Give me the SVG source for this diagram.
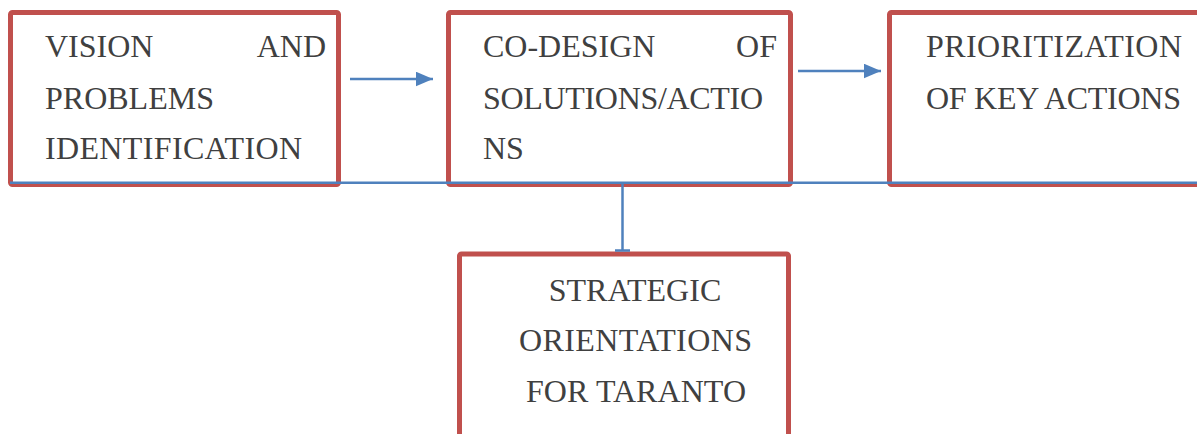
<svg xmlns="http://www.w3.org/2000/svg" width="1197" height="434" viewBox="0 0 1197 434">
  <style>
    .box { fill: #ffffff; stroke: #c0504d; stroke-width: 5; }
    .lbl { font-family: "Liberation Serif", "Times New Roman", serif; font-size: 32px; fill: #404040; }
    .mid { text-anchor: middle; }
    .end { text-anchor: end; }
    .wire { fill: none; stroke: #4f81bd; stroke-width: 2.5; }
  </style>
  <defs>
    <marker id="arrow" markerWidth="7" markerHeight="6" refX="7" refY="3" orient="auto" markerUnits="strokeWidth">
      <path d="M0,0 L7,3 L0,6 Z" fill="#4f81bd"/>
    </marker>
  </defs>

  <g id="vision">
    <rect class="box" x="10.5" y="12.5" width="328" height="172" rx="2"/>
    <text class="lbl" x="45" y="57">VISION</text>
    <text class="lbl end" x="326" y="57">AND</text>
    <text class="lbl" x="45" y="109">PROBLEMS</text>
    <text class="lbl" x="45" y="159" textLength="257">IDENTIFICATION</text>
  </g>

  <g id="codesign">
    <rect class="box" x="448.5" y="12.5" width="342" height="172" rx="2"/>
    <text class="lbl" x="483" y="57">CO-DESIGN</text>
    <text class="lbl end" x="777" y="57">OF</text>
    <text class="lbl" x="483" y="109" textLength="280">SOLUTIONS/ACTIO</text>
    <text class="lbl" x="483" y="159">NS</text>
  </g>

  <g id="prioritization">
    <rect class="box" x="889.5" y="12.5" width="320" height="172" rx="2"/>
    <text class="lbl" x="926" y="57" textLength="256">PRIORITIZATION</text>
    <text class="lbl" x="926" y="109" textLength="255">OF KEY ACTIONS</text>
  </g>

  <g id="strategic">
    <rect class="box" x="459.5" y="254" width="329" height="200" rx="2"/>
    <text class="lbl mid" x="635" y="301">STRATEGIC</text>
    <text class="lbl" x="519" y="351" textLength="233">ORIENTATIONS</text>
    <text class="lbl" x="526" y="402" textLength="220">FOR TARANTO</text>
  </g>

  <g id="connectors">
    <line class="wire" x1="350" y1="79" x2="433" y2="79" marker-end="url(#arrow)"/>
    <line class="wire" x1="798" y1="71" x2="881" y2="71" marker-end="url(#arrow)"/>
    <line class="wire" x1="10" y1="182.8" x2="1197" y2="182.8"/>
    <line class="wire" x1="622.5" y1="183" x2="622.5" y2="251"/>
    <line class="wire" x1="615" y1="250.5" x2="630" y2="250.5"/>
  </g>
</svg>
